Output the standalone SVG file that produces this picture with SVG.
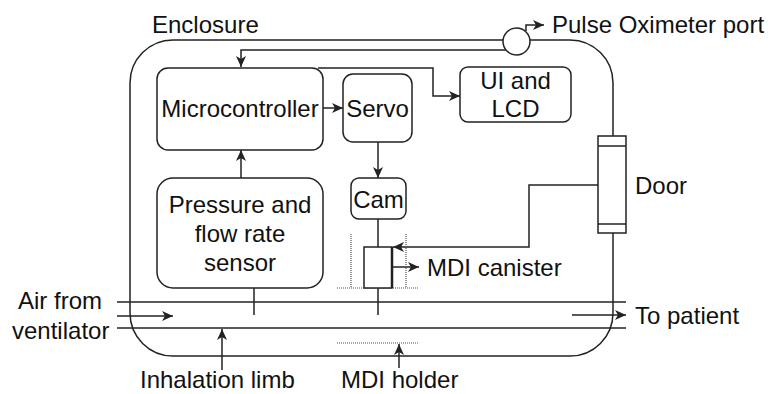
<svg xmlns="http://www.w3.org/2000/svg" width="773" height="394" viewBox="0 0 773 394">
<defs>
<style>
.ln{fill:none;stroke:#222;stroke-width:1.5}
.bx{fill:#fff;stroke:#222;stroke-width:1.5}
.dt{fill:none;stroke:#555;stroke-width:1.2;stroke-dasharray:1 1}
.t{font-family:"Liberation Sans",Arial,sans-serif;font-size:24px;fill:#111}
.c{text-anchor:middle}
.a{marker-end:url(#ar)}
</style>
<marker id="ar" markerUnits="userSpaceOnUse" markerWidth="12" markerHeight="10" viewBox="0 0 12 10" refX="11" refY="5" orient="auto">
<path d="M0,0 L11,5 L0,10 L3,5 Z" fill="#222"/>
</marker>
</defs>
<rect width="773" height="394" fill="#fff"/>

<g id="enclosure">
<rect class="ln" x="130" y="40" width="483" height="316" rx="43" ry="43"/>
<text class="t" x="152" y="33">Enclosure</text>
</g>

<g id="pipe">
<line class="ln" x1="117" y1="302" x2="626" y2="302"/>
<line class="ln" x1="117" y1="328" x2="626" y2="328"/>
</g>

<g id="connectors">
<path class="ln a" d="M506,50 L241,50 L241,67"/>
<path class="ln a" d="M526,31 L526,25 L544,25"/>
<path class="ln a" d="M323,108 L343,108"/>
<path class="ln a" d="M318,68 L433,68 L433,96 L460,96"/>
<path class="ln a" d="M241,178 L241,150"/>
<path class="ln a" d="M378,142 L378,178"/>
<path class="ln" d="M378,219 L378,247"/>
<path class="ln a" d="M598,185 L529,185 L529,247 L393,247"/>
<path class="ln a" d="M392,267 L419,267"/>
<path class="ln" d="M378,288 L378,315"/>
<path class="ln" d="M254,288 L254,315"/>
<path class="ln a" d="M117,316 L173,316"/>
<path class="ln a" d="M572,315 L626,315"/>
<path class="ln a" d="M222,370 L222,329"/>
<path class="ln a" d="M399,368 L399,344"/>
</g>

<g id="pulse-oximeter-port">
<circle class="bx" cx="516.5" cy="41.5" r="13.5"/>
<text class="t" x="552" y="33">Pulse Oximeter port</text>
</g>

<g id="microcontroller">
<rect class="bx" x="157" y="68" width="166" height="82" rx="11"/>
<text class="t c" x="240" y="116.5">Microcontroller</text>
</g>

<g id="servo">
<rect class="bx" x="343" y="74" width="69" height="68" rx="10"/>
<text class="t c" x="377.5" y="116.5">Servo</text>
</g>

<g id="ui-lcd">
<rect class="bx" x="460" y="67" width="111" height="55" rx="8"/>
<text class="t c" x="515.5" y="88.5">UI and</text>
<text class="t c" x="515.5" y="116.5">LCD</text>
</g>

<g id="sensor">
<rect class="bx" x="157" y="178" width="166" height="110" rx="16"/>
<text class="t c" x="240" y="212.5">Pressure and</text>
<text class="t c" x="240" y="241.5">flow rate</text>
<text class="t c" x="240" y="270.5">sensor</text>
</g>

<g id="cam">
<rect class="bx" x="351" y="178" width="55" height="41" rx="8"/>
<text class="t c" x="378.5" y="207.5">Cam</text>
</g>

<g id="mdi-canister">
<line class="dt" x1="351" y1="234" x2="351" y2="288"/>
<line class="dt" x1="406" y1="234" x2="406" y2="288"/>
<line class="dt" x1="337" y1="288" x2="418" y2="288"/>
<rect class="bx" x="364" y="247" width="28" height="41"/>
<line x1="392" y1="247" x2="392" y2="288" stroke="#222" stroke-width="2.5"/>
<text class="t" x="427" y="275.5">MDI canister</text>
</g>

<g id="door">
<rect class="bx" x="598" y="136" width="28" height="97"/>
<line class="ln" x1="598" y1="146" x2="626" y2="146"/>
<line class="ln" x1="598" y1="224" x2="626" y2="224"/>
<text class="t" x="635" y="193.5">Door</text>
</g>

<g id="mdi-holder">
<line class="dt" x1="337" y1="343" x2="418" y2="343"/>
<text class="t" x="341" y="388">MDI holder</text>
</g>

<g id="labels">
<text class="t" x="18" y="308.5">Air from</text>
<text class="t" x="12" y="338.5">ventilator</text>
<text class="t" x="635" y="323.5">To patient</text>
<text class="t" x="140" y="388">Inhalation limb</text>
</g>
</svg>
